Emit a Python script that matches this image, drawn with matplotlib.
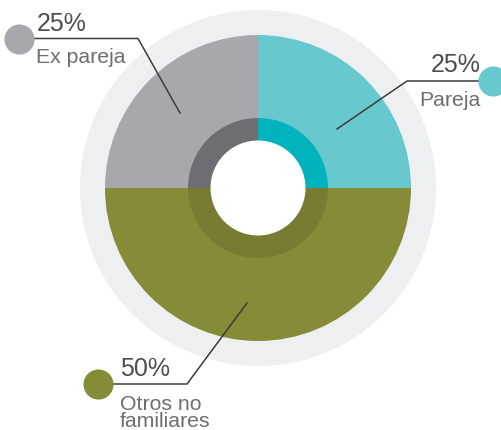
import matplotlib.pyplot as plt

# data
labels = ['Pareja', 'Otros no\nfamiliares', 'Ex pareja']
values = [25, 50, 25]
outer_colors = ['#67C8CD', '#858B37', '#A7A8AC']
inner_colors = ['#00B3BC', '#787C33', '#6D6E72']

plt.rcParams['font.family'] = ['Liberation Sans', 'DejaVu Sans']

fig = plt.figure(figsize=(5.01, 4.30), dpi=100)
ax = fig.add_axes([0, 0, 1, 1])

H = 430
cx, cy = 258, H - 188

# light background ring
ax.pie([1], radius=178, center=(cx, cy), colors=['#EEEFF1'],
       wedgeprops=dict(linewidth=0), frame=True)
# main slices
ax.pie(values, radius=153, center=(cx, cy), colors=outer_colors,
       startangle=90, counterclock=False,
       wedgeprops=dict(linewidth=0), frame=True)
# inner darker ring
ax.pie(values, radius=70, center=(cx, cy), colors=inner_colors,
       startangle=90, counterclock=False,
       wedgeprops=dict(width=23, linewidth=0), frame=True)
ax.pie([1], radius=47.5, center=(cx, cy), colors=['white'],
       wedgeprops=dict(linewidth=0), frame=True)
ax.set_xlim(0, 501)
ax.set_ylim(0, 430)
ax.set_aspect('equal')
ax.axis('off')

pct_col = '#4D4D4F'
lab_col = '#6D6E71'
line_col = '#3C3C3E'
pfs = 18
lfs = 15.3


def label_lines(x, y, text, ha):
    # stack lines manually for tight spacing
    for i, line in enumerate(text.split('\n')):
        ax.text(x, y - 17 * i, line, fontsize=lfs, color=lab_col, ha=ha, va='baseline')


# Ex pareja
ax.plot([30, 138, 180], [H - 38.5, H - 38.5, H - 113], color=line_col, lw=1.1)
ax.scatter([19.5], [H - 38.5], s=470, color=outer_colors[2], linewidths=0, zorder=5)
ax.text(37, H - 31, '%d%%' % values[2], fontsize=pfs, color=pct_col, ha='left', va='baseline')
label_lines(36, H - 63, labels[2], 'left')

# Pareja
ax.plot([485, 407, 337], [H - 81, H - 81, H - 129], color=line_col, lw=1.1)
ax.scatter([493], [H - 81], s=470, color=outer_colors[0], linewidths=0, zorder=5)
ax.text(481, H - 72, '%d%%' % values[0], fontsize=pfs, color=pct_col, ha='right', va='baseline')
label_lines(481, H - 106, labels[0], 'right')

# Otros no familiares
ax.plot([105, 187, 247], [H - 384, H - 384, H - 303], color=line_col, lw=1.1)
ax.scatter([98], [H - 384], s=470, color=outer_colors[1], linewidths=0, zorder=5)
ax.text(120, H - 376, '%d%%' % values[1], fontsize=pfs, color=pct_col, ha='left', va='baseline')
label_lines(120, H - 410, labels[1], 'left')

fig.savefig('out.png', dpi=100)
